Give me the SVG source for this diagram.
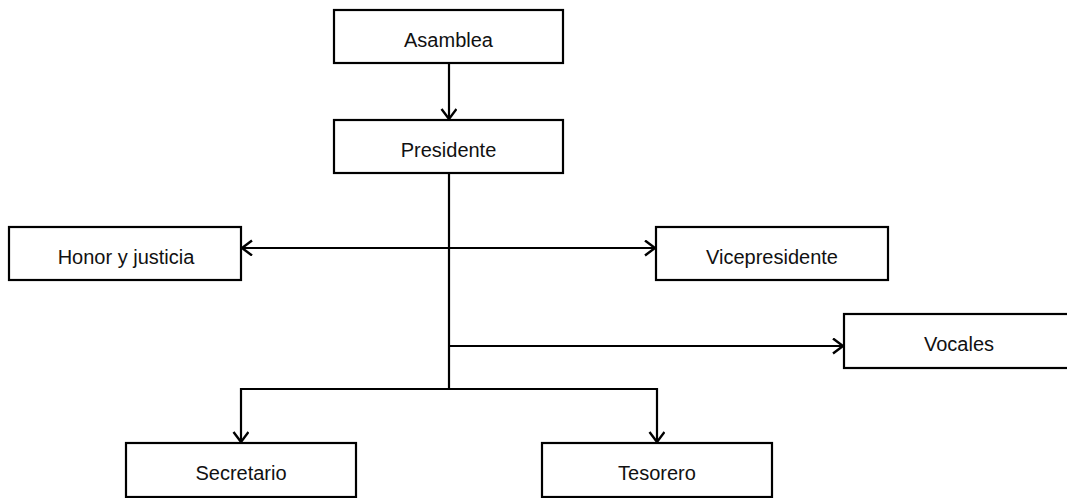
<svg xmlns="http://www.w3.org/2000/svg" width="1067" height="498" viewBox="0 0 1067 498">
<style>
.box{fill:#fff;stroke:#000;stroke-width:2.2}
.lbl{font-family:"Liberation Sans",Arial,sans-serif;font-size:20px;fill:#111;text-anchor:middle}
.con{fill:none;stroke:#000;stroke-width:2.2}
</style>
<defs>
<marker id="arr" markerUnits="userSpaceOnUse" markerWidth="16" markerHeight="18" refX="11" refY="8" orient="auto-start-reverse" viewBox="0 0 16 18">
<path d="M1,0.5 L11,8 L1,15.5" fill="none" stroke="#000" stroke-width="2.4"/>
</marker>
</defs>
<rect width="1067" height="498" fill="#fff"/>
<g id="connectors">
<line class="con" x1="449" y1="63" x2="449" y2="119" marker-end="url(#arr)"/>
<line class="con" x1="449" y1="173" x2="449" y2="390"/>
<line class="con" x1="242" y1="248" x2="655" y2="248" marker-start="url(#arr)" marker-end="url(#arr)"/>
<line class="con" x1="449" y1="346" x2="843" y2="346" marker-end="url(#arr)"/>
<polyline class="con" points="241,442 241,389 657,389 657,442" marker-start="url(#arr)" marker-end="url(#arr)"/>
</g>
<g id="asamblea"><rect class="box" x="334" y="10" width="229" height="53"/><text class="lbl" x="448.5" y="46.5">Asamblea</text></g>
<g id="presidente"><rect class="box" x="334" y="120" width="229" height="53"/><text class="lbl" x="448.5" y="156.5">Presidente</text></g>
<g id="honor"><rect class="box" x="9" y="227" width="232" height="53"/><text class="lbl" x="126" y="263.5">Honor y justicia</text></g>
<g id="vicepresidente"><rect class="box" x="656" y="227" width="232" height="53"/><text class="lbl" x="772" y="263.5">Vicepresidente</text></g>
<g id="vocales"><rect class="box" x="844" y="314" width="230" height="54"/><text class="lbl" x="959" y="351">Vocales</text></g>
<g id="secretario"><rect class="box" x="126" y="443" width="230" height="54"/><text class="lbl" x="241" y="480">Secretario</text></g>
<g id="tesorero"><rect class="box" x="542" y="443" width="230" height="54"/><text class="lbl" x="657" y="480">Tesorero</text></g>
</svg>
